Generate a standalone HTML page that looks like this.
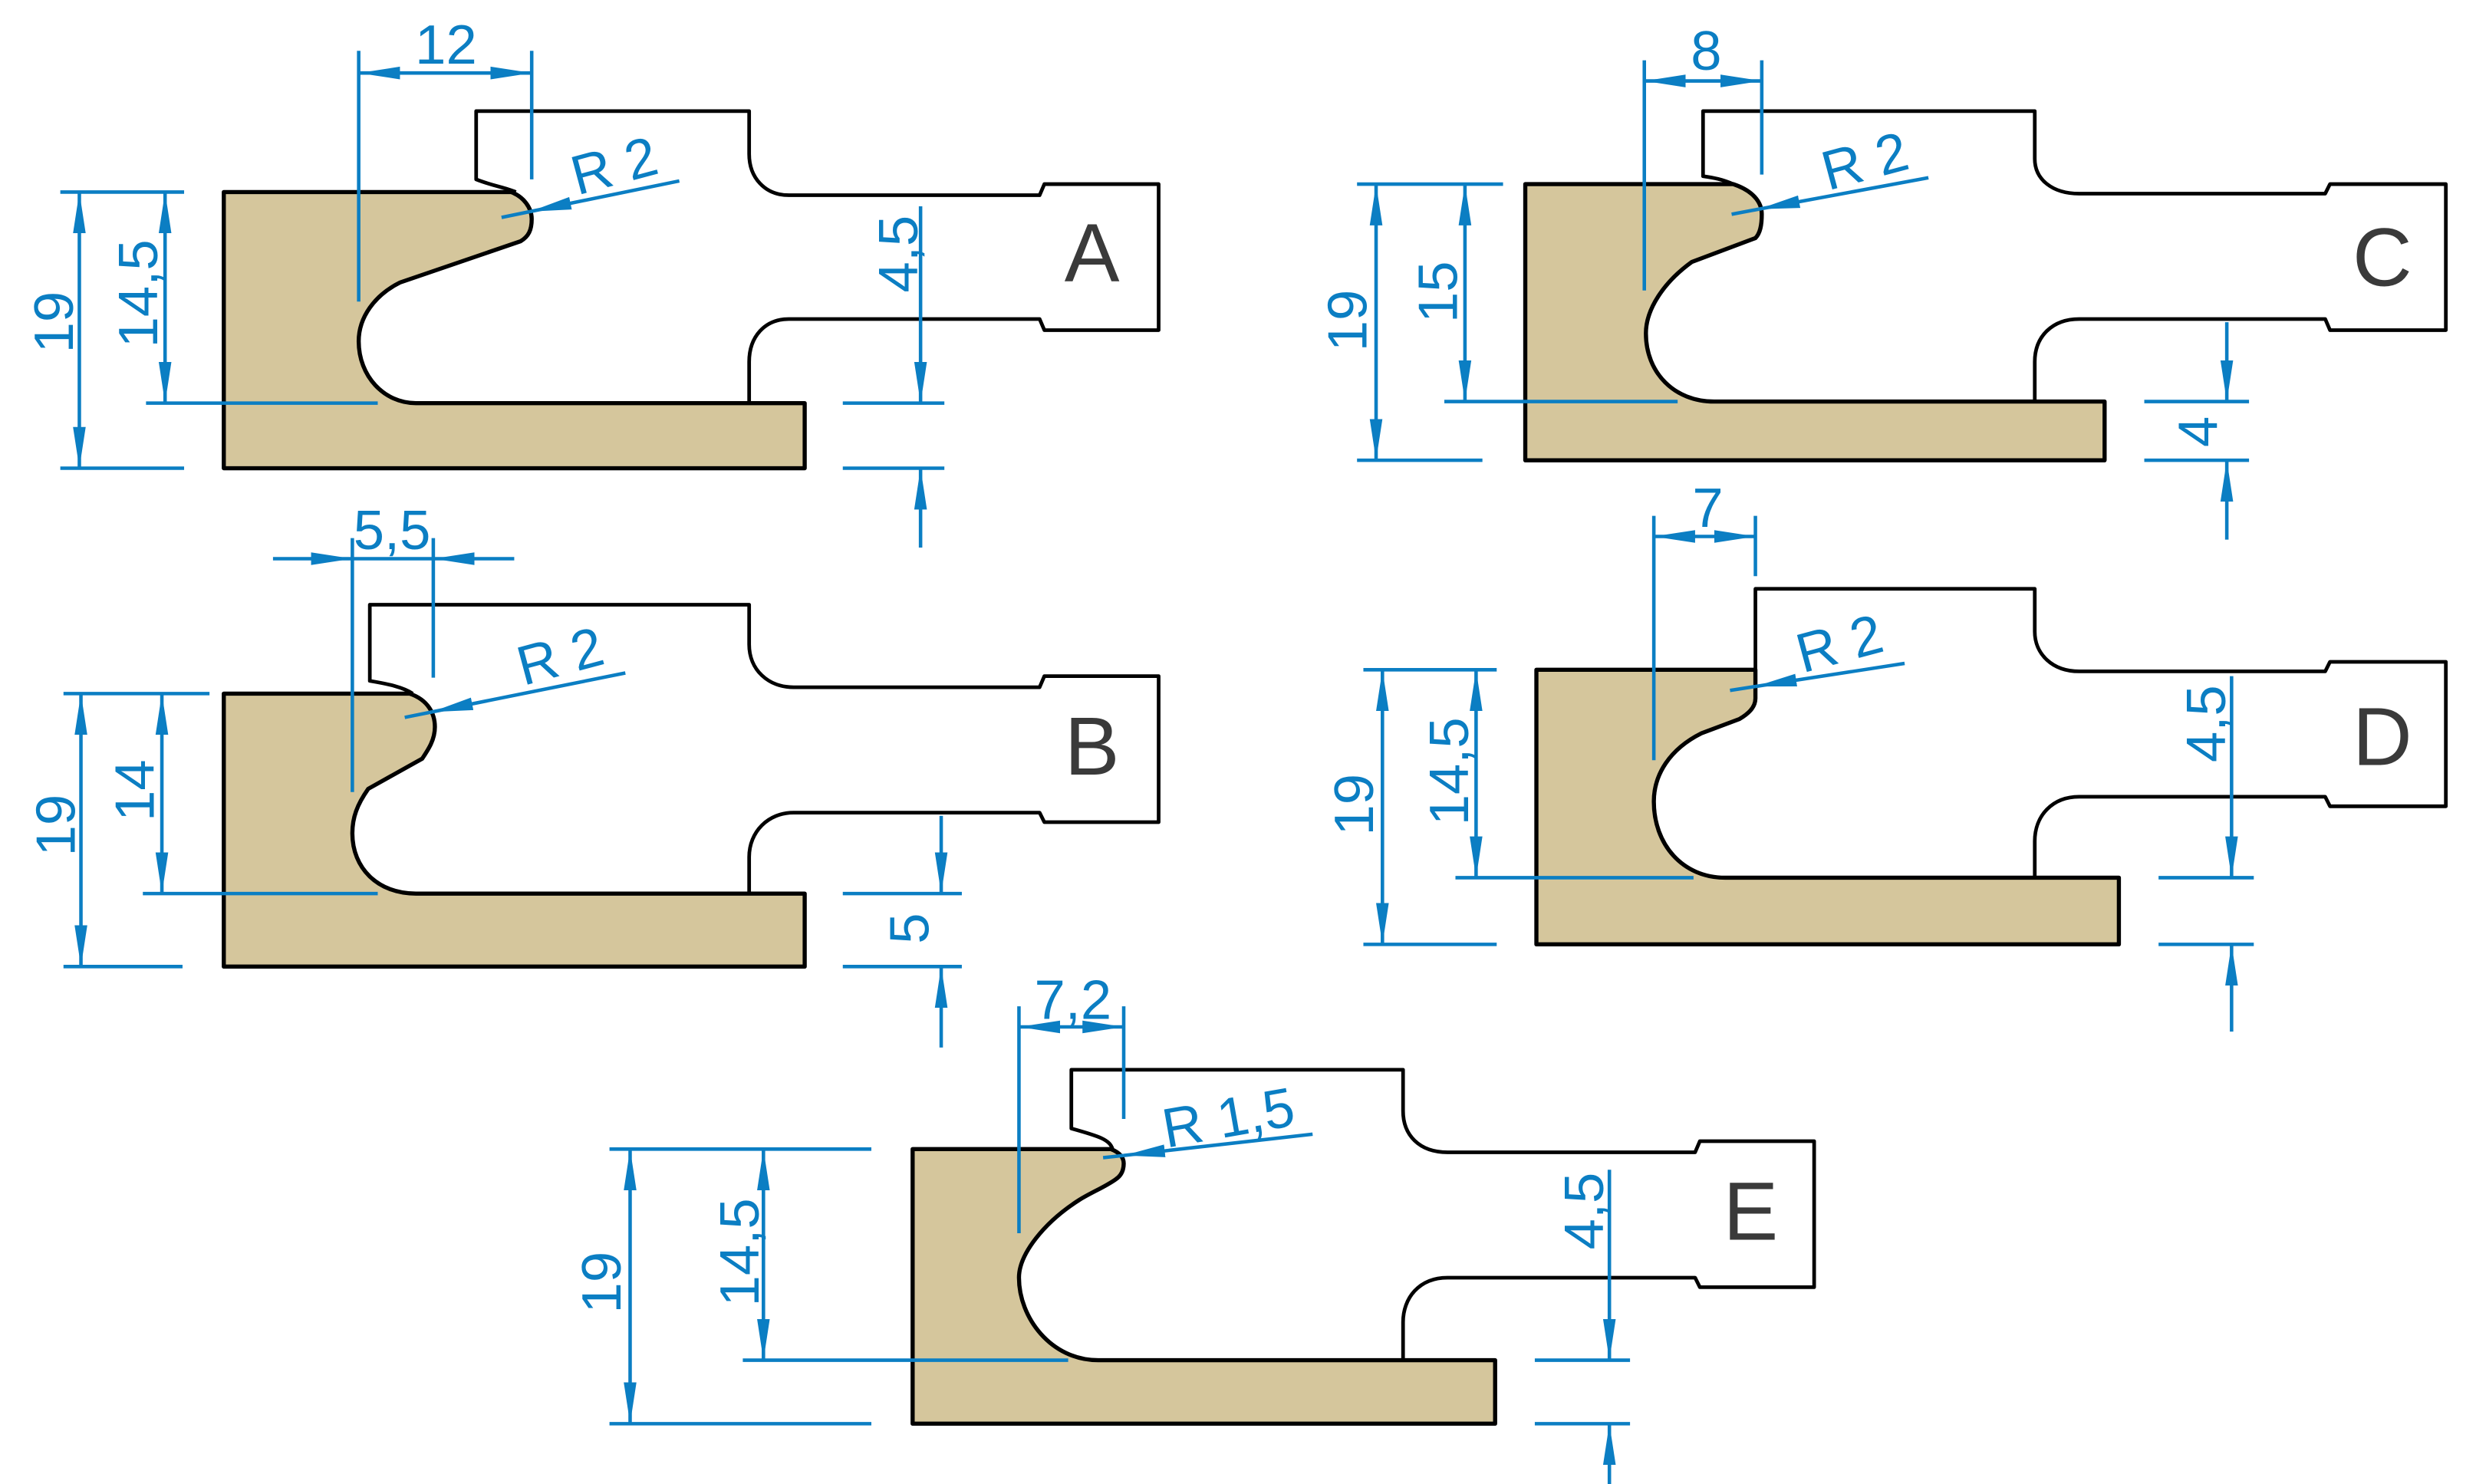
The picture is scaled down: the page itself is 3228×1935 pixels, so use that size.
<!DOCTYPE html>
<html><head><meta charset="utf-8"><style>html,body{margin:0;padding:0;background:#fff}svg{display:block}</style></head>
<body>
<svg xmlns="http://www.w3.org/2000/svg" width="3228" height="1935" viewBox="0 0 1560 935" preserveAspectRatio="none">
<defs>
<marker id="ar" viewBox="0 0 26 9" refX="26" refY="4.5" markerWidth="26" markerHeight="9" markerUnits="userSpaceOnUse" orient="auto-start-reverse"><path d="M0,0.5 L26,4.5 L0,8.5Z" fill="#0b7ec3"/></marker>
</defs>
<rect width="1560" height="935" fill="#fff"/>
<g fill="#d5c69c" stroke="#000" stroke-width="2.6" stroke-linejoin="round">
<path d="M141,121 L322,121 C330,124 335,131 335,138 C335,145 333,149 328,152 L252,178 C236,186 226,200 226,215 C226,237 242,254 262,254 L507,254 L507,295 L141,295 Z"/>
<path d="M141,437 L258,437 C270,441 274,450 274,458 C274,466 270,472 266,478 L232,497 C225,507 222,515 222,525 C222,547 238,563 262,563 L507,563 L507,609 L141,609 Z"/>
<path d="M961,116 L1092,116 C1104,120 1110,127 1110,135 C1110,142 1109,147 1106,150 L1066,165 C1048,178 1037,195 1037,210 C1037,235 1055,253 1080,253 L1326,253 L1326,290 L961,290 Z"/>
<path d="M968,422 L1106,422 L1106,440 C1106,446 1101,450 1096,453 L1072,462 C1052,472 1042,488 1042,505 C1042,532 1060,553 1087,553 L1335,553 L1335,595 L968,595 Z"/>
<path d="M575,724 L700,724 C705,726 708,729 708,733 C708,738 706,741 703,743 C696,748 688,751 680,756 C658,770 642,790 642,805 C642,830 662,857 692,857 L942,857 L942,897 L575,897 Z"/>
</g>
<g fill="none" stroke="#000" stroke-width="2.3" stroke-linejoin="round">
<path d="M325,121 C318,118 310,117 300,113 L300,70 L472,70 L472,97 C472,112 482,123 497,123 L655,123 L658,116 L730,116 L730,208 L658,208 L655,201 L497,201 C482,201 472,212 472,228 L472,254"/>
<path d="M260,437 C254,433 245,431 233,429 L233,381 L472,381 L472,406 C472,422 484,433 500,433 L655,433 L658,426 L730,426 L730,518 L658,518 L655,512 L500,512 C484,512 472,524 472,540 L472,563"/>
<path d="M1092,116 C1085,113 1080,112 1073,111 L1073,70 L1282,70 L1282,100 C1282,113 1293,122 1310,122 L1465,122 L1468,116 L1541,116 L1541,208 L1468,208 L1465,201 L1310,201 C1293,201 1282,212 1282,228 L1282,253"/>
<path d="M1106,422 L1106,371 L1282,371 L1282,398 C1282,412 1293,423 1310,423 L1465,423 L1468,417 L1541,417 L1541,508 L1468,508 L1465,502 L1310,502 C1293,502 1282,514 1282,530 L1282,553"/>
<path d="M701,724 C699,718 693,716 675,711 L675,674 L884,674 L884,700 C884,715 894,726 912,726 L1068,726 L1071,719 L1143,719 L1143,811 L1071,811 L1068,805 L912,805 C894,805 884,818 884,833 L884,857"/>
</g>
<g stroke="#0b7ec3" stroke-width="2.2" fill="none">
<line x1="226" y1="46" x2="335" y2="46" marker-start="url(#ar)" marker-end="url(#ar)"/>
<line x1="226" y1="32" x2="226" y2="190"/><line x1="335" y1="32" x2="335" y2="113"/>
<line x1="428" y1="114" x2="334" y2="133.3" marker-end="url(#ar)"/><line x1="334" y1="133.3" x2="316" y2="137"/>
<line x1="50" y1="121" x2="50" y2="295" marker-start="url(#ar)" marker-end="url(#ar)"/>
<line x1="38" y1="121" x2="116" y2="121"/><line x1="38" y1="295" x2="116" y2="295"/>
<line x1="104" y1="121" x2="104" y2="254" marker-start="url(#ar)" marker-end="url(#ar)"/>
<line x1="92" y1="254" x2="238" y2="254"/>
<line x1="580" y1="130" x2="580" y2="254" marker-end="url(#ar)"/><line x1="580" y1="345" x2="580" y2="295" marker-end="url(#ar)"/>
<line x1="531" y1="254" x2="595" y2="254"/><line x1="531" y1="295" x2="595" y2="295"/>
<line x1="172" y1="352" x2="222" y2="352" marker-end="url(#ar)"/><line x1="324" y1="352" x2="273" y2="352" marker-end="url(#ar)"/><line x1="222" y1="352" x2="273" y2="352"/>
<line x1="222" y1="339" x2="222" y2="499"/><line x1="273" y1="339" x2="273" y2="427"/>
<line x1="394" y1="424" x2="272" y2="448.6" marker-end="url(#ar)"/><line x1="272" y1="448.6" x2="255" y2="452"/>
<line x1="51" y1="437" x2="51" y2="609" marker-start="url(#ar)" marker-end="url(#ar)"/>
<line x1="40" y1="437" x2="132" y2="437"/><line x1="40" y1="609" x2="115" y2="609"/>
<line x1="102" y1="437" x2="102" y2="563" marker-start="url(#ar)" marker-end="url(#ar)"/>
<line x1="90" y1="563" x2="238" y2="563"/>
<line x1="593" y1="514" x2="593" y2="563" marker-end="url(#ar)"/><line x1="593" y1="660" x2="593" y2="609" marker-end="url(#ar)"/>
<line x1="531" y1="563" x2="606" y2="563"/><line x1="531" y1="609" x2="606" y2="609"/>
<line x1="1036" y1="51" x2="1110" y2="51" marker-start="url(#ar)" marker-end="url(#ar)"/>
<line x1="1036" y1="38" x2="1036" y2="183"/><line x1="1110" y1="38" x2="1110" y2="110"/>
<line x1="1215" y1="112" x2="1108" y2="131.8" marker-end="url(#ar)"/><line x1="1108" y1="131.8" x2="1091" y2="135"/>
<line x1="867" y1="116" x2="867" y2="290" marker-start="url(#ar)" marker-end="url(#ar)"/>
<line x1="855" y1="116" x2="947" y2="116"/><line x1="855" y1="290" x2="934" y2="290"/>
<line x1="923" y1="116" x2="923" y2="253" marker-start="url(#ar)" marker-end="url(#ar)"/>
<line x1="910" y1="253" x2="1057" y2="253"/>
<line x1="1403" y1="203" x2="1403" y2="253" marker-end="url(#ar)"/><line x1="1403" y1="340" x2="1403" y2="290" marker-end="url(#ar)"/>
<line x1="1351" y1="253" x2="1417" y2="253"/><line x1="1351" y1="290" x2="1417" y2="290"/>
<line x1="1042" y1="338" x2="1106" y2="338" marker-start="url(#ar)" marker-end="url(#ar)"/>
<line x1="1042" y1="325" x2="1042" y2="479"/><line x1="1106" y1="325" x2="1106" y2="363"/>
<line x1="1200" y1="418" x2="1106" y2="432.5" marker-end="url(#ar)"/><line x1="1106" y1="432.5" x2="1090" y2="435"/>
<line x1="871" y1="422" x2="871" y2="595" marker-start="url(#ar)" marker-end="url(#ar)"/>
<line x1="859" y1="422" x2="943" y2="422"/><line x1="859" y1="595" x2="943" y2="595"/>
<line x1="930" y1="422" x2="930" y2="553" marker-start="url(#ar)" marker-end="url(#ar)"/>
<line x1="917" y1="553" x2="1067" y2="553"/>
<line x1="1406" y1="426" x2="1406" y2="553" marker-end="url(#ar)"/><line x1="1406" y1="650" x2="1406" y2="595" marker-end="url(#ar)"/>
<line x1="1360" y1="553" x2="1420" y2="553"/><line x1="1360" y1="595" x2="1420" y2="595"/>
<line x1="642" y1="647" x2="708" y2="647" marker-start="url(#ar)" marker-end="url(#ar)"/>
<line x1="642" y1="634" x2="642" y2="777"/><line x1="708" y1="634" x2="708" y2="705"/>
<line x1="827" y1="714.6" x2="708" y2="728" marker-end="url(#ar)"/><line x1="708" y1="728" x2="695" y2="729.4"/>
<line x1="397" y1="724" x2="397" y2="897" marker-start="url(#ar)" marker-end="url(#ar)"/>
<line x1="384" y1="724" x2="549" y2="724"/><line x1="384" y1="897" x2="549" y2="897"/>
<line x1="481" y1="724" x2="481" y2="857" marker-start="url(#ar)" marker-end="url(#ar)"/>
<line x1="468" y1="857" x2="673" y2="857"/>
<line x1="1014" y1="737" x2="1014" y2="857" marker-end="url(#ar)"/><line x1="1014" y1="935" x2="1014" y2="897" marker-end="url(#ar)"/>
<line x1="967" y1="857" x2="1027" y2="857"/><line x1="967" y1="897" x2="1027" y2="897"/>
</g>
<g fill="#0b7ec3" font-family="Liberation Sans, sans-serif" font-size="35" text-anchor="middle">
<text x="281" y="40">12</text>
<text transform="translate(390,116) rotate(-15)">R 2</text>
<text transform="translate(46,203) rotate(-90)">19</text>
<text transform="translate(99,185) rotate(-90)">14,5</text>
<text transform="translate(578,160) rotate(-90)">4,5</text>
<text x="247" y="346">5,5</text>
<text transform="translate(356,425) rotate(-15)">R 2</text>
<text transform="translate(47,520) rotate(-90)">19</text>
<text transform="translate(97,498) rotate(-90)">14</text>
<text transform="translate(585,585) rotate(-90)">5</text>
<text x="1075" y="44">8</text>
<text transform="translate(1178,113) rotate(-15)">R 2</text>
<text transform="translate(861,202) rotate(-90)">19</text>
<text transform="translate(918,184) rotate(-90)">15</text>
<text transform="translate(1397,272) rotate(-90)">4</text>
<text x="1076" y="332">7</text>
<text transform="translate(1162,417) rotate(-15)">R 2</text>
<text transform="translate(865,507) rotate(-90)">19</text>
<text transform="translate(925,486) rotate(-90)">14,5</text>
<text transform="translate(1402,456) rotate(-90)">4,5</text>
<text x="676" y="642">7,2</text>
<text transform="translate(776,716) rotate(-10)">R 1,5</text>
<text transform="translate(391,808) rotate(-90)">19</text>
<text transform="translate(478,789) rotate(-90)">14,5</text>
<text transform="translate(1010,763) rotate(-90)">4,5</text>
</g>
<g fill="#3a3a3a" font-family="Liberation Sans, sans-serif" font-size="52" text-anchor="middle">
<text x="688" y="177">A</text>
<text x="688" y="488">B</text>
<text x="1501" y="180">C</text>
<text x="1501" y="482">D</text>
<text x="1103" y="781">E</text>
</g>
</svg>
</body></html>
